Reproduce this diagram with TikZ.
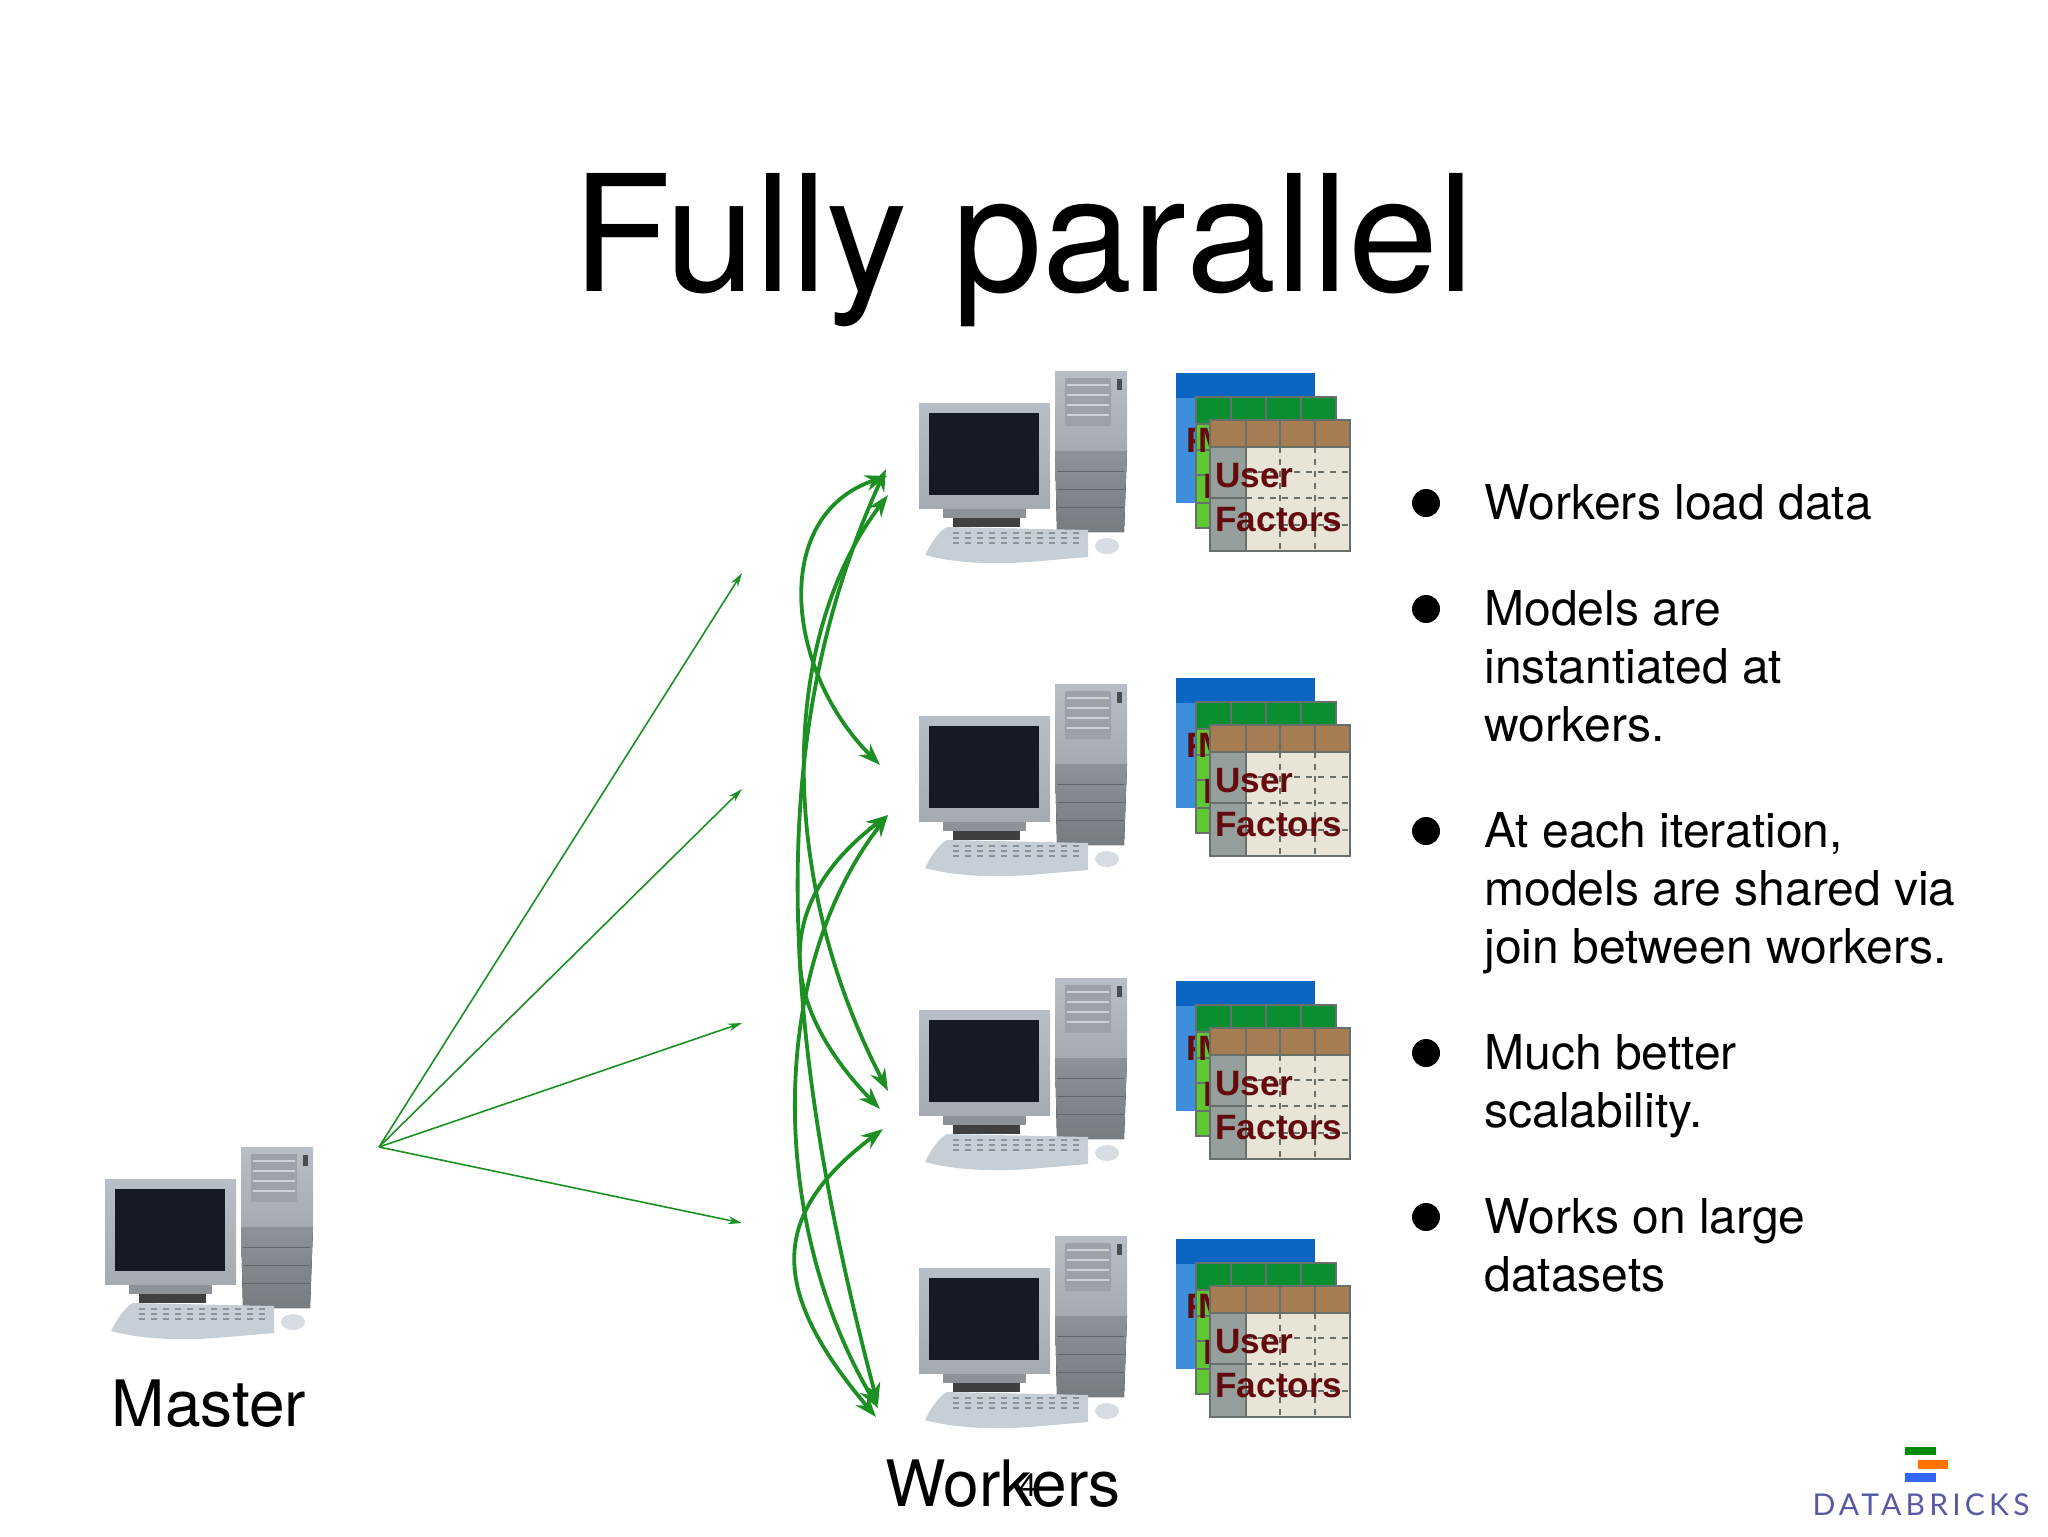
\documentclass[tikz,border=0pt]{standalone}
\usepackage{fontspec}
\setmainfont{TeX Gyre Heros}
\newfontfamily\factorfont{Liberation Sans}
\newfontfamily\logofont[LetterSpace=14]{Lato}
\usetikzlibrary{arrows.meta}

\definecolor{linkgreen}{HTML}{1C9022}
\definecolor{factorred}{HTML}{640A0E}
\definecolor{gridgray}{HTML}{68706C}
\definecolor{backhead}{HTML}{0A66C2}
\definecolor{backbody}{HTML}{3D8FDC}
\definecolor{midhead}{HTML}{0A8F30}
\definecolor{midbody}{HTML}{5EC832}
\definecolor{fronthead}{HTML}{A67C52}
\definecolor{frontbody}{HTML}{E8E4D6}
\definecolor{frontside}{HTML}{95A09C}
\definecolor{caselight}{HTML}{B8BEC5}
\definecolor{casedark}{HTML}{8C9298}
\definecolor{screendark}{HTML}{151A24}
\definecolor{keycolor}{HTML}{C6CED6}

\tikzset{
    thinlink/.style={-{Stealth[length=7pt,width=4pt]},color=linkgreen,line width=.8pt},
    joinlink/.style={{Stealth[length=11pt,width=8pt]}-{Stealth[length=11pt,width=8pt]},color=linkgreen,line width=1.9pt},
    label/.style={font=\fontsize{32}{36}\selectfont,inner sep=0pt,anchor=base},
    bullettext/.style={font=\fontsize{24}{29}\selectfont,inner sep=0pt,anchor=north west,align=left},
    bulletdot/.style={circle,fill=black,minimum size=14pt,inner sep=0pt},
    factortext/.style={font=\factorfont\bfseries\fontsize{17.6}{20}\selectfont,text=factorred,inner sep=0pt,anchor=base west},
    computer/.pic={
        % tower
        \fill[top color=caselight,bottom color=caselight!90!black] (136,0) -- (208,0) -- (208,80) -- (136,80) -- cycle;
        \fill[top color=casedark,bottom color=casedark!85!black] (136,80) -- (208,80) -- (205,161) -- (138,161) -- cycle;
        \fill[casedark!85!white] (146,7) rectangle (192,55);
        \foreach \yy in {14,24,34,44} \draw[caselight!70!white,line width=.6pt] (148,\yy) -- (190,\yy);
        \fill[black!70] (198,8) rectangle (203,19);
        \foreach \yy in {100,118,136} \draw[casedark!70!black,line width=.4pt] (138,\yy) -- (205,\yy);
        % monitor
        \fill[black!75] (34,147) rectangle (101,156);
        \fill[casedark] (24,137) rectangle (107,147);
        \fill[top color=caselight,bottom color=caselight!90!black] (0,32) rectangle (131,137);
        \fill[screendark] (10,42) rectangle (120,124);
        % keyboard
        \fill[keycolor] (6,184) .. controls (12,172) and (20,160) .. (28,156) -- (169,159) -- (169,186)
            .. controls (130,189) and (100,193) .. (71,192) .. controls (45,192) and (20,188) .. (6,184) -- cycle;
        \foreach \yy in {162,167,172} \draw[casedark,dashed,line width=.8pt] (34,\yy) -- (166,\yy);
        \fill[keycolor!70!white] (188,175) ellipse (12 and 8);
    },
    factorstack/.pic={
        % back sheet
        \fill[backbody] (0,0) rectangle (139,130);
        \fill[backhead] (0,0) rectangle (139,25);
        \node[factortext] (backf) at (10,79) {F};
        % middle sheet
        \fill[midbody] (20,24) rectangle (160,155);
        \fill[midhead] (20,24) rectangle (160,51);
        \draw[gridgray,line width=.8pt] (20,24) rectangle (160,155);
        \foreach \xx in {55,90,125} \draw[gridgray,line width=.8pt] (\xx,24) -- (\xx,51);
        \foreach \yy in {51,77,102,130} \draw[gridgray,line width=.8pt] (20,\yy) -- (160,\yy);
        \node[factortext] (backm) at (22,79) {M};
        \node[factortext] (backp) at (27,125) {F};
        % front sheet
        \fill[frontbody] (34,47) rectangle (174,178);
        \fill[fronthead] (34,47) rectangle (174,74);
        \fill[frontside] (34,74) rectangle (70,178);
        \foreach \xx in {104,139} \draw[gridgray,dashed,line width=.7pt] (\xx,74) -- (\xx,178);
        \foreach \yy in {99,125,152} \draw[gridgray,dashed,line width=.7pt] (70,\yy) -- (174,\yy);
        \foreach \xx in {70,104,139} \draw[gridgray,line width=.8pt] (\xx,47) -- (\xx,74);
        \draw[gridgray,line width=.8pt] (34,125) -- (70,125) (70,74) -- (70,178) (34,74) -- (174,74);
        \draw[gridgray,line width=1pt] (34,47) rectangle (174,178);
        \node[factortext] (user) at (39,114) {User};
        \node[factortext] (factors) at (39,158) {Factors};
    },
}

\begin{document}
\begin{tikzpicture}[x=.5pt,y=-.5pt]
    \useasboundingbox (0,0) rectangle (2048,1536);

    % title
    \node[inner sep=0pt,anchor=base,font=\fontsize{81}{90}\selectfont] (title) at (1023,291) {Fully parallel};

    % machines
    \pic (master) at (105,1147) {computer};
    \node[label] (masterlabel) at (209,1426) {Master};
    \foreach \name/\yy/\yb in {one/371/373,two/684/678,three/978/981,four/1236/1239}{
        \pic (worker\name) at (919,\yy) {computer};
        \pic (stack\name) at (1176,\yb) {factorstack};
    }
    \node[label] (workerslabel) at (1003,1506) {Workers};
    \node[inner sep=0pt,font=\fontsize{16}{18}\selectfont] (pagenum) at (1028,1485) {4};

    % master to workers
    \coordinate (src) at (379,1147);
    \coordinate (thinone) at (742,573);
    \coordinate (thintwo) at (742,789);
    \coordinate (thinthree) at (742,1023);
    \coordinate (thinfour) at (742,1223);
    \draw[thinlink] (src) -- (thinone);
    \draw[thinlink] (src) -- (thintwo);
    \draw[thinlink] (src) -- (thinthree);
    \draw[thinlink] (src) -- (thinfour);

    % joins between workers
    \coordinate (onea) at (887,476);
    \coordinate (oneb) at (888,495);
    \coordinate (onec) at (886,469);
    \coordinate (twoa) at (880,765);
    \coordinate (twob) at (888,815);
    \coordinate (threea) at (888,1091);
    \coordinate (threeb) at (880,1109);
    \coordinate (threec) at (883,1129);
    \coordinate (foura) at (878,1405);
    \coordinate (fourb) at (878,1408);
    \coordinate (fourc) at (876,1417);
    \draw[joinlink] (onea) .. controls (770,515) and (785,670) .. (twoa);
    \draw[joinlink] (oneb) .. controls (778,640) and (778,880) .. (threea);
    \draw[joinlink] (onec) .. controls (771,720) and (771,1000) .. (foura);
    \draw[joinlink] (twob) .. controls (775,901) and (775,1000) .. (threeb);
    \draw[joinlink] (twob) .. controls (768,970) and (768,1220) .. (fourb);
    \draw[joinlink] (threec) .. controls (769,1215) and (769,1290) .. (fourc);

    % bullets
    \node[bulletdot] (dotone) at (1426,503) {};
    \node[bulletdot] (dottwo) at (1426,609) {};
    \node[bulletdot] (dotthree) at (1426,831) {};
    \node[bulletdot] (dotfour) at (1426,1053) {};
    \node[bulletdot] (dotfive) at (1426,1217) {};
    \node[bullettext] (textone) at (1484,484) {Workers load data};
    \node[bullettext] (texttwo) at (1484,590) {Models are\\instantiated at\\workers.};
    \node[bullettext] (textthree) at (1484,812) {At each iteration,\\models are shared via\\join between workers.};
    \node[bullettext] (textfour) at (1484,1034) {Much better\\scalability.};
    \node[bullettext] (textfive) at (1484,1198) {Works on large\\datasets};

    % logo
    \fill[green!55!black] (1905,1447) rectangle (1936,1455);
    \fill[orange!90!red] (1918,1460) rectangle (1948,1469);
    \fill[blue!75!cyan!80] (1905,1473) rectangle (1936,1482);
    \node[inner sep=0pt,anchor=base,text=blue!45!black!65,font=\logofont\fontsize{15}{18}\selectfont] (logotext) at (1921,1515) {DATABRICKS};
\end{tikzpicture}
\end{document}
